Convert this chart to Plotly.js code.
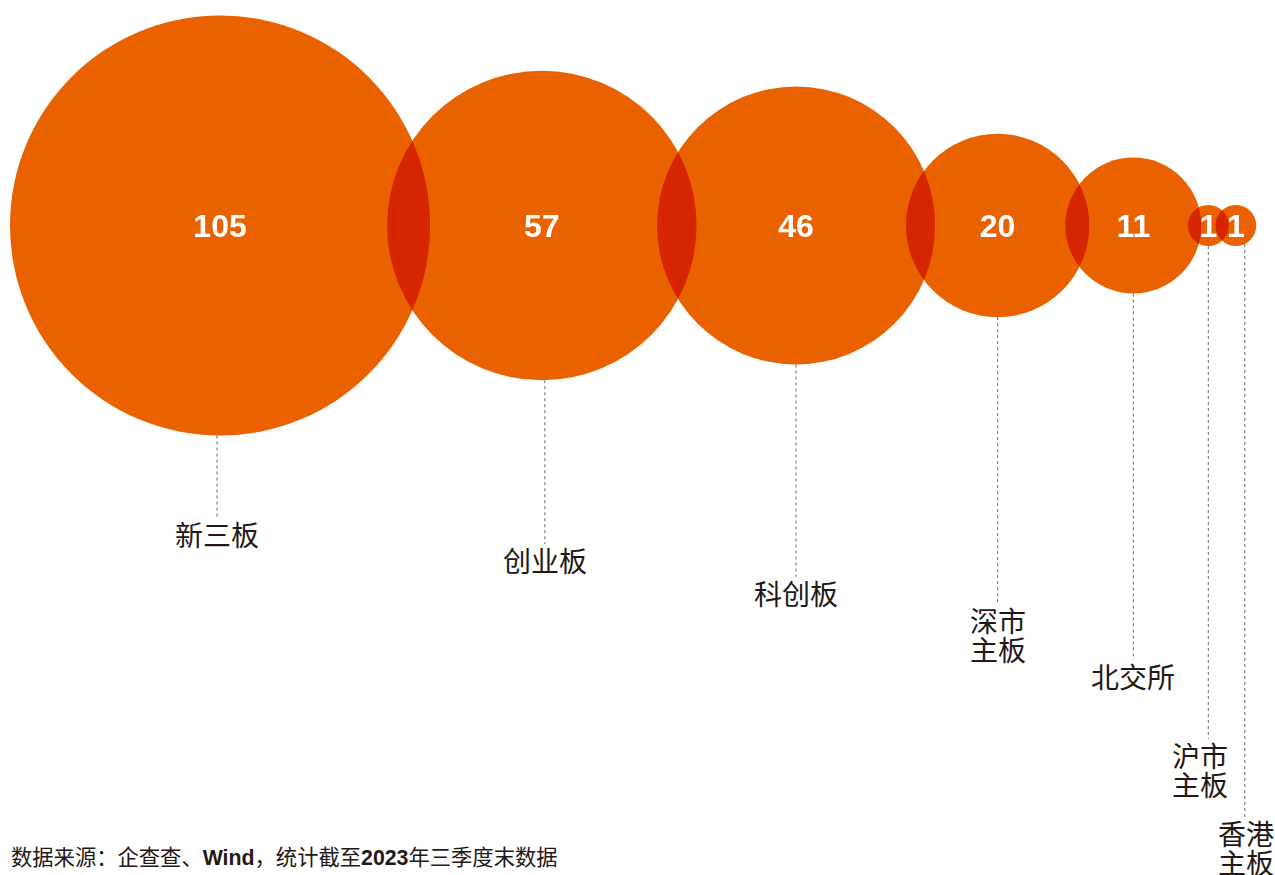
<!DOCTYPE html>
<html>
<head>
<meta charset="utf-8">
<script src="https://cdn.plot.ly/plotly-3.0.1.min.js"></script>
<style>
  html, body { margin: 0; padding: 0; background: #ffffff; }
  #chart { width: 1275px; height: 875px; }
  /* overlapping bubbles multiply into a deeper red, as in the reference */
  .scatterlayer .trace .points path { mix-blend-mode: multiply; }
</style>
</head>
<body>
<div id="chart"></div>
<script>
// ---------------- data ----------------
const categories = ['新三板', '创业板', '科创板', '深市主板', '北交所', '沪市主板', '香港主板'];
const counts = [105, 57, 46, 20, 11, 1, 1];
const sourceNote = '数据来源：企查查、<b>Wind</b>，统计截至<b>2023</b>年三季度末数据';

// ---------------- layout / style constants ----------------
const W = 1275, H = 875;
const K = 20.5;                 // px of radius per sqrt(count)
const LEFT = 10;                // left edge of first bubble
const CY = 225.5;               // vertical centre of the bubble row
const ORANGE = '#EA6200';
const TEXT = '#231815';
const labelY = [533.5, 560, 593, 620, 676, 755, 833];   // centre of first label line
const labelDx = [-3, 3, 0, 0, 0, -8, 10];
const leaderDx = [-3, 3, 0, 0, 0, 0, 9];
const LINE_GAP = 29;

// radii through sqrt scale, positions packed with partial overlap
const radii = counts.map(v => K * Math.sqrt(v));
const cx = [];
radii.forEach((r, i) => {
  if (i === 0) { cx.push(LEFT + r); return; }
  const rp = radii[i - 1];
  const overlap = 0.22 * Math.min(r, rp) + 9;
  cx.push(cx[i - 1] + rp + r - overlap);
});

const traces = [];
// leader lines (start on the bubble's lower rim)
categories.forEach((c, i) => {
  const dx = leaderDx[i];
  const yStart = CY + Math.sqrt(Math.max(radii[i] * radii[i] - dx * dx, 0));
  traces.push({
    type: 'scatter', mode: 'lines', hoverinfo: 'skip', showlegend: false,
    x: [cx[i] + dx, cx[i] + dx],
    y: [yStart, labelY[i] - 16],
    line: { color: '#6a6a6a', width: 1, dash: 'dot' }
  });
});
// bubbles
traces.push({
  type: 'scatter', mode: 'markers', showlegend: false,
  x: cx, y: counts.map(() => CY),
  marker: {
    size: counts, sizemode: 'area', sizeref: 1 / (2 * K * K), sizemin: 0,
    color: ORANGE, opacity: 1, line: { width: 0 }
  },
  hovertext: categories, hoverinfo: 'text'
});
// value labels
traces.push({
  type: 'scatter', mode: 'text', showlegend: false, hoverinfo: 'skip',
  x: cx, y: counts.map(() => CY + 3),
  text: counts.map(String),
  textposition: 'middle center',
  textfont: { family: 'Liberation Sans, Arial, sans-serif', size: 32, color: '#ffffff', weight: 'bold' }
});

// labels (4-char names break into two lines of 2)
const annotations = [];
categories.forEach((c, i) => {
  const lines = c.length === 4 ? [c.slice(0, 2), c.slice(2)] : [c];
  lines.forEach((t, j) => {
    annotations.push({
      xref: 'x', yref: 'y', x: cx[i] + labelDx[i], y: labelY[i] + j * LINE_GAP,
      text: t, showarrow: false, xanchor: 'center', yanchor: 'middle',
      font: { family: 'Noto Sans CJK SC, sans-serif', size: 28, color: TEXT }
    });
  });
});
annotations.push({
  xref: 'x', yref: 'y', x: 9, y: 858, text: sourceNote, showarrow: false,
  xanchor: 'left', yanchor: 'middle',
  font: { family: 'Liberation Sans, Noto Sans CJK SC, sans-serif', size: 21.3, color: TEXT }
});

const layout = {
  width: W, height: H,
  margin: { l: 0, r: 0, t: 0, b: 0, pad: 0 },
  paper_bgcolor: '#ffffff', plot_bgcolor: '#ffffff',
  xaxis: { range: [0, W], visible: false, fixedrange: true },
  yaxis: { range: [H, 0], visible: false, fixedrange: true },
  annotations: annotations,
  showlegend: false
};

Plotly.newPlot('chart', traces, layout, { displayModeBar: false, staticPlot: true });
</script>
</body>
</html>
